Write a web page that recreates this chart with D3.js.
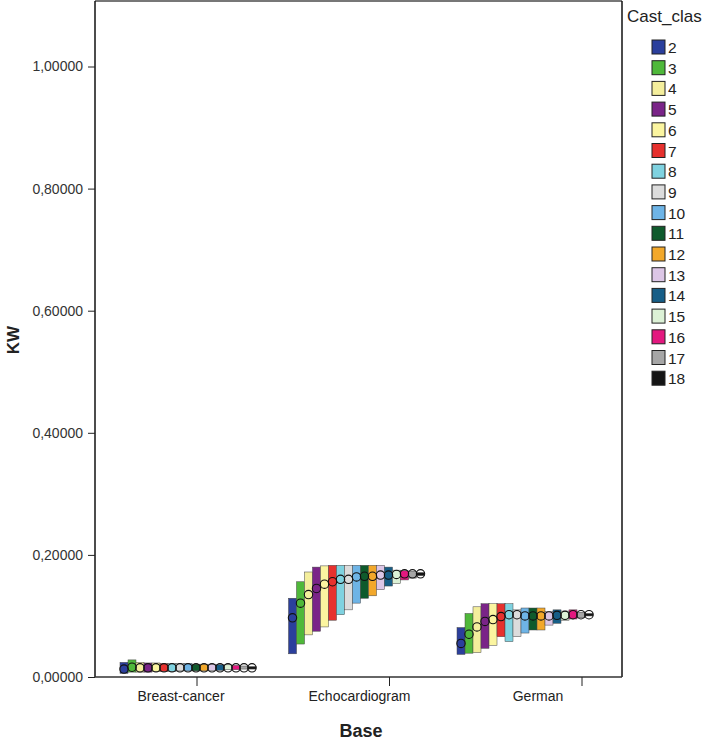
<!DOCTYPE html>
<html>
<head>
<meta charset="utf-8">
<script src="https://cdn.jsdelivr.net/npm/d3@7"></script>
<style>
  body { margin: 0; background: #fff; }
  svg { display: block; font-family: Arial, "Liberation Sans", sans-serif; }
</style>
</head>
<body>
<svg id="chart" width="714" height="742"></svg>
<script>
// data
const bases = ["Breast-cancer", "Echocardiogram", "German"];
const classes = ["2","3","4","5","6","7","8","9","10","11","12","13","14","15","16","17","18"];
const classColors = ["#2b3f9c","#4fb83a","#f4ee9c","#7a2488","#fbf5a0","#e6312e","#7fd2e0","#dcdcdc",
                     "#6eb4e6","#0f5a2c","#f2a82b","#dcc6e6","#175e87","#dcf1d6","#e3187f","#a6a6a6","#141414"];
const yTicks = [0, 0.2, 0.4, 0.6, 0.8, 1.0];

const breastHigh = [0.024,0.028,0.024,0.023,0.023,0.022,0.022,0.022,0.022,0.021,0.021,0.021,0.020,0.020,0.019,0.018,0.017];
const breastLow  = [0.006,0.008,0.008,0.008,0.009,0.009,0.009,0.010,0.010,0.010,0.010,0.011,0.011,0.012,0.012,0.013,0.013];
const breastMean = [0.013,0.016,0.015,0.015,0.015,0.015,0.015,0.015,0.015,0.015,0.015,0.015,0.015,0.015,0.015,0.015,0.015];

const echoHigh = [0.129,0.156,0.172,0.180,0.182,0.183,0.183,0.183,0.183,0.183,0.183,0.183,0.180,0.175,0.174,0.173,0.171];
const echoLow  = [0.038,0.054,0.069,0.075,0.082,0.093,0.102,0.110,0.121,0.129,0.133,0.143,0.149,0.153,0.159,0.162,0.166];
const echoMean = [0.097,0.121,0.135,0.145,0.152,0.156,0.160,0.160,0.164,0.165,0.165,0.167,0.167,0.168,0.169,0.169,0.169];

const germanHigh = [0.081,0.104,0.115,0.120,0.120,0.120,0.120,0.110,0.113,0.113,0.113,0.107,0.110,0.108,0.110,0.106,0.104];
const germanLow  = [0.037,0.039,0.040,0.047,0.052,0.066,0.058,0.066,0.072,0.077,0.077,0.085,0.088,0.093,0.095,0.097,0.100];
const germanMean = [0.055,0.070,0.082,0.091,0.094,0.099,0.102,0.102,0.100,0.100,0.100,0.100,0.101,0.101,0.102,0.102,0.102];

const series = [
  {base: bases[0], high: breastHigh, low: breastLow, mean: breastMean},
  {base: bases[1], high: echoHigh,   low: echoLow,   mean: echoMean},
  {base: bases[2], high: germanHigh, low: germanLow, mean: germanMean}
];

// flatten into rows for the marks
let rows = [];
series.forEach(function(s){
  classes.forEach(function(c, i){
    rows.push({base: s.base, cls: c, high: s.high[i], low: s.low[i], mean: s.mean[i]});
  });
});

const svg = d3.select("#chart");
const plotLeft = 95, plotRight = 622, plotTop = 1, plotBottom = 677;

let y = d3.scaleLinear().domain([0, 1]).range([plotBottom, 66.5]);
let groupX = d3.scalePoint().domain(bases).range([188, 525]);
let tickX = d3.scalePoint().domain(bases).range([197, 582]);
let labelX = d3.scalePoint().domain(bases).range([181, 538]);
let inner = d3.scaleBand().domain(classes).range([-68, 68]);
let color = d3.scaleOrdinal().domain(classes).range(classColors);

// frame
svg.append("line").attr("x1", plotLeft).attr("x2", plotRight).attr("y1", plotTop).attr("y2", plotTop)
  .attr("stroke", "#777").attr("stroke-width", 2);
svg.append("line").attr("x1", plotRight).attr("x2", plotRight).attr("y1", plotTop).attr("y2", plotBottom)
  .attr("stroke", "#111").attr("stroke-width", 1.5);

// boxes
let g = svg.append("g");
g.selectAll("rect.box")
  .data(rows)
  .enter().append("rect")
  .attr("class", "box")
  .attr("x", d => groupX(d.base) + inner(d.cls))
  .attr("y", d => y(d.high))
  .attr("width", inner.bandwidth())
  .attr("height", d => y(d.low) - y(d.high))
  .attr("fill", d => color(d.cls))
  .attr("stroke", "#444")
  .attr("stroke-width", 0.5);

// means (hollow rings)
g.selectAll("circle.mean")
  .data(rows)
  .enter().append("circle")
  .attr("class", "mean")
  .attr("cx", d => groupX(d.base) + inner(d.cls) + inner.bandwidth() / 2)
  .attr("cy", d => y(d.mean))
  .attr("r", 4.2)
  .attr("fill", "none")
  .attr("stroke", "#111")
  .attr("stroke-width", 1.1);

// y axis
let yAxis = svg.append("g")
  .attr("transform", `translate(${plotLeft},0)`)
  .call(d3.axisLeft(y).tickValues(yTicks).tickSize(7).tickPadding(5)
    .tickFormat(d => d3.format(".5f")(d).replace(".", ",")));
yAxis.select(".domain").attr("d", `M0,${plotTop}V${plotBottom}`).attr("stroke", "#111").attr("stroke-width", 1.5);
yAxis.selectAll(".tick line").attr("stroke", "#222");
yAxis.selectAll("text").attr("font-size", 14).attr("fill", "#333");

// x axis: line, ticks, labels
svg.append("line").attr("x1", plotLeft).attr("x2", plotRight).attr("y1", plotBottom).attr("y2", plotBottom)
  .attr("stroke", "#333").attr("stroke-width", 1.5);
svg.append("g").selectAll("line")
  .data(bases)
  .enter().append("line")
  .attr("x1", d => tickX(d)).attr("x2", d => tickX(d))
  .attr("y1", plotBottom).attr("y2", plotBottom + 9)
  .attr("stroke", "#222");
svg.append("g").selectAll("text")
  .data(bases)
  .enter().append("text")
  .attr("x", d => labelX(d))
  .attr("y", 701)
  .attr("text-anchor", "middle")
  .attr("font-size", 14)
  .attr("fill", "#222")
  .text(d => d);

// axis titles
svg.append("text")
  .attr("x", 361).attr("y", 737)
  .attr("text-anchor", "middle")
  .attr("font-size", 18).attr("font-weight", "bold").attr("fill", "#222")
  .text("Base");
svg.append("text")
  .attr("transform", "translate(19,340) rotate(-90)")
  .attr("text-anchor", "middle")
  .attr("font-size", 17).attr("font-weight", "bold").attr("fill", "#222")
  .text("KW");

// legend
let legend = svg.append("g");
legend.append("text")
  .attr("x", 627).attr("y", 22)
  .attr("font-size", 17).attr("fill", "#222")
  .text("Cast_clas");
let item = legend.selectAll("g.item")
  .data(classes)
  .enter().append("g")
  .attr("class", "item")
  .attr("transform", (d, i) => `translate(652,${47 + i * 20.7})`);
item.append("rect")
  .attr("x", 0).attr("y", -7)
  .attr("width", 13).attr("height", 14)
  .attr("fill", d => color(d))
  .attr("stroke", "#222").attr("stroke-width", 1);
item.append("text")
  .attr("x", 16).attr("y", 6)
  .attr("font-size", 15.5).attr("fill", "#222")
  .text(d => d);
</script>
</body>
</html>
